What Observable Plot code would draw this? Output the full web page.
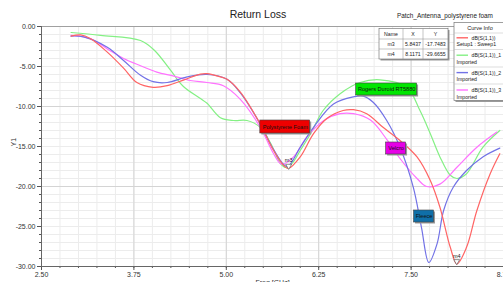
<!DOCTYPE html>
<html><head><meta charset="utf-8">
<script src="https://cdn.jsdelivr.net/npm/d3@7"></script>
<script src="https://cdn.jsdelivr.net/npm/@observablehq/plot@0.6"></script>
<style>
html,body{margin:0;padding:0;background:#fff;overflow:hidden}
#chart{width:503px;height:282px}
</style></head><body><div id="chart"></div>
<script>
// ---- data ----
const xTicks = [2.5, 3.75, 5.0, 6.25, 7.5, 8.75];
const yTicks = [0, -5, -10, -15, -20, -25, -30];

const freqRed = [2.9,3.03,3.16,3.39,3.61,3.79,4.01,4.2,4.42,4.65,4.74,4.92,5.01,5.19,5.46,5.64,5.78,5.84,6.0,6.18,6.36,6.58,6.72,6.9,7.12,7.35,7.58,7.76,7.89,8.03,8.12,8.25,8.39,8.57,8.7];
const dbRed   = [-1.2,-1.05,-1.5,-3.2,-5.2,-7.0,-7.6,-7.4,-6.7,-5.95,-5.9,-6.3,-6.6,-8.2,-12.2,-15.5,-17.4,-17.75,-16.3,-13.4,-11.5,-10.5,-10.4,-10.9,-12.6,-14.25,-16.3,-19.25,-22.6,-27.6,-29.67,-27.6,-23.0,-18.4,-15.9];

const freqGreen = [2.9,3.3,3.84,4.03,4.24,4.42,4.65,4.74,4.92,5.1,5.28,5.46,5.6,5.73,5.8,5.89,6.0,6.14,6.31,6.54,6.81,7.08,7.44,7.62,7.76,7.89,8.03,8.12,8.25,8.47,8.7];
const dbGreen   = [-0.75,-1.1,-1.75,-3.0,-5.4,-7.5,-9.0,-9.6,-11.4,-11.75,-11.75,-12.6,-14.6,-17.1,-17.6,-17.1,-15.5,-13.4,-10.5,-8.4,-7.0,-6.66,-7.6,-10.5,-13.4,-16.3,-18.6,-19.0,-18.4,-15.1,-13.0];

const freqBlue = [2.9,3.07,3.39,3.61,3.84,4.01,4.2,4.47,4.74,5.01,5.19,5.46,5.64,5.82,6.0,6.18,6.45,6.72,6.85,6.99,7.17,7.35,7.53,7.64,7.74,7.85,7.94,8.07,8.25,8.47,8.7];
const dbBlue   = [-1.2,-1.3,-2.6,-4.25,-6.1,-6.9,-7.0,-6.3,-6.0,-6.6,-8.3,-12.2,-15.4,-17.5,-15.1,-12.6,-9.7,-8.8,-8.7,-9.5,-11.75,-15.1,-20.1,-25.1,-29.5,-27.2,-23.0,-20.1,-18.0,-16.3,-15.2];

const freqMagenta = [2.9,3.16,3.39,3.61,3.84,4.06,4.29,4.51,4.74,4.96,5.19,5.46,5.64,5.75,5.91,6.09,6.32,6.54,6.72,6.95,7.17,7.35,7.58,7.71,7.89,8.12,8.39,8.66];
const dbMagenta   = [-1.1,-1.5,-2.8,-4.0,-4.9,-5.7,-6.2,-6.75,-7.0,-7.4,-9.1,-12.6,-15.9,-17.2,-16.3,-13.8,-11.75,-10.9,-10.9,-11.7,-14.1,-16.5,-19.0,-20.0,-19.7,-17.6,-15.1,-13.2];

const seriesNames = ["dB(S(1,1))","dB(S(1,1))_1","dB(S(1,1))_2","dB(S(1,1))_3"];
const seriesSub   = ["Setup1 : Sweep1","Imported","Imported","Imported"];
const seriesColors = ["#ff6464","#84f084","#7272e6","#ff72ff"];

const markerNames = ["m3","m4"];
const markerX = [5.8437, 8.1171];
const markerY = [-17.7483, -29.6655];

const labelTexts  = ["Polystyrene Foam","Rogers Duroid RT5880","Velcro","Fleece"];
const labelColors = ["#ee0000","#00e600","#e600e6","#0f6fa8"];
const labelX1 = [5.46, 6.757, 7.162, 7.54];
const labelX2 = [6.135, 7.581, 7.432, 7.81];
const labelY1 = [-11.75, -7.125, -14.5, -23.0];
const labelY2 = [-13.375, -8.625, -16.0, -24.5];

// ---- build ----
const mk = (f, d, i) => f.map((x, k) => ({x, y: d[k], s: i}));
const curves = [mk(freqRed, dbRed, 0), mk(freqGreen, dbGreen, 1), mk(freqBlue, dbBlue, 2), mk(freqMagenta, dbMagenta, 3)];
const labels = labelTexts.map((t, i) => ({t, c: labelColors[i], x1: labelX1[i], x2: labelX2[i], y1: labelY1[i], y2: labelY2[i]}));
const markers = markerNames.map((n, i) => ({n, x: markerX[i], y: markerY[i]}));

const font = "Liberation Sans, Arial, sans-serif";
const minorX = d3.range(2.5, 8.751, 0.25);
const minorY = d3.range(-30, 0.01, 1);

const plot = Plot.plot({
  width: 503, height: 282,
  marginLeft: 41, marginRight: 0, marginTop: 26, marginBottom: 16,
  style: {fontFamily: font, background: "#fff", overflow: "visible"},
  x: {domain: [2.5, 8.75]},
  y: {domain: [-30, 0]},
  marks: [
    Plot.ruleX(minorX, {stroke: "#ececec", strokeWidth: 1}),
    Plot.ruleY(minorY, {stroke: "#ececec", strokeWidth: 1}),
    Plot.ruleX(xTicks, {stroke: "#d4d4d4", strokeWidth: 1}),
    Plot.ruleY([-10, -20], {stroke: "#d4d4d4", strokeWidth: 1}),
    Plot.frame({stroke: "#a0a0a0"}),
    Plot.axisX({ticks: minorX, tickSize: 2, tickFormat: null, text: null, stroke: "#555"}),
    Plot.axisX({ticks: xTicks, tickSize: 4, tickPadding: 2, tickFormat: d => d.toFixed(2), fontSize: 7, fill: "#333", stroke: "#555", label: null}),
    Plot.axisY({ticks: minorY, tickSize: 2, text: null, stroke: "#555"}),
    Plot.axisY({ticks: yTicks, tickSize: 4, tickPadding: 2, tickFormat: d => d.toFixed(2), fontSize: 7, fill: "#333", stroke: "#555", label: null}),
    Plot.ruleX([2.5], {stroke: "#666"}),
    Plot.ruleY([-30], {stroke: "#666"}),
    ...[1, 3, 2, 0].map(i => Plot.line(curves[i], {x: "x", y: "y", stroke: seriesColors[i], strokeWidth: 1.2, curve: "catmull-rom"})),
    // annotation boxes
    Plot.rect(labels, {x1: "x1", x2: "x2", y1: "y1", y2: "y2", fill: "#9a9a9a", dx: 1.5, dy: 1.5}),
    Plot.rect(labels, {x1: "x1", x2: "x2", y1: "y1", y2: "y2", fill: "c", stroke: "#444", strokeWidth: 0.6}),
    Plot.text(labels, {x: d => (d.x1 + d.x2) / 2, y: d => (d.y1 + d.y2) / 2, text: "t", fontSize: 5.6, fill: "#111"}),
    // markers
    Plot.dot(markers, {x: "x", y: "y", symbol: "triangle", rotate: 180, r: 2.2, dy: -2.5, stroke: "#444", fill: "white", strokeWidth: 0.6}),
    Plot.text(markers, {x: "x", y: "y", text: "n", dy: -8, fontSize: 5.5, fill: "#222"}),
    // axis titles
    Plot.text(["Y1"], {frameAnchor: "left", dx: -28, rotate: -90, fontSize: 7, fill: "#333"}),
    Plot.text(["Freq [GHz]"], {frameAnchor: "bottom", dy: 18, fontSize: 7, fill: "#333"}),
  ]
});
document.getElementById("chart").appendChild(plot);

// ---- decorations: title, marker table, curve info ----
const svg = d3.select(plot);
const g = svg.append("g").attr("font-family", font).attr("text-anchor", "start");
g.append("text").attr("x", 258).attr("y", 18).attr("text-anchor", "middle").attr("font-size", 10.5).attr("font-weight", 500).attr("fill", "#222").text("Return Loss");
g.append("text").attr("x", 397).attr("y", 18).attr("font-size", 6.4).attr("fill", "#222").text("Patch_Antenna_polystyrene foam");

// marker table
const tx = [379, 403, 423, 448], ty = [28.5, 39, 49, 59];
g.append("rect").attr("x", tx[0] + 1.5).attr("y", ty[0] + 1.5).attr("width", tx[3] - tx[0]).attr("height", ty[3] - ty[0]).attr("fill", "#9a9a9a");
g.append("rect").attr("x", tx[0]).attr("y", ty[0]).attr("width", tx[3] - tx[0]).attr("height", ty[3] - ty[0]).attr("fill", "#fff").attr("stroke", "#666").attr("stroke-width", 0.6);
[1, 2].forEach(i => g.append("line").attr("x1", tx[i]).attr("x2", tx[i]).attr("y1", ty[0]).attr("y2", ty[3]).attr("stroke", "#888").attr("stroke-width", 0.5));
[1, 2].forEach(i => g.append("line").attr("x1", tx[0]).attr("x2", tx[3]).attr("y1", ty[i]).attr("y2", ty[i]).attr("stroke", "#888").attr("stroke-width", 0.5));
const rows = [["Name", "X", "Y"], ...markers.map(m => [m.n, m.x.toFixed(4), m.y.toFixed(4)])];
rows.forEach((r, j) => r.forEach((t, i) => g.append("text").attr("x", (tx[i] + tx[i + 1]) / 2).attr("y", (ty[j] + ty[j + 1]) / 2 + 2).attr("text-anchor", "middle").attr("font-size", 5.2).attr("fill", "#222").text(t)));

// curve info legend
g.append("rect").attr("x", 455.5).attr("y", 24).attr("width", 60).attr("height", 78).attr("fill", "#9a9a9a");
g.append("rect").attr("x", 454).attr("y", 22.5).attr("width", 60).attr("height", 78).attr("fill", "#fff").attr("stroke", "#777").attr("stroke-width", 0.7);
g.append("text").attr("x", 480).attr("y", 30).attr("text-anchor", "middle").attr("font-size", 5.5).attr("fill", "#222").text("Curve Info");
[33, 49.5, 67, 84].forEach(y => g.append("line").attr("x1", 454).attr("x2", 503).attr("y1", y).attr("y2", y).attr("stroke", "#bbb").attr("stroke-width", 0.5));
const ly = [37.8, 55.2, 72.6, 90];
seriesNames.forEach((n, i) => {
  g.append("line").attr("x1", 456.5).attr("x2", 468).attr("y1", ly[i]).attr("y2", ly[i]).attr("stroke", seriesColors[i]).attr("stroke-width", 1.4);
  g.append("text").attr("x", 471.5).attr("y", ly[i] + 2).attr("font-size", 5.2).attr("fill", "#222").text(n);
  g.append("text").attr("x", 456.5).attr("y", ly[i] + 8.6).attr("font-size", 5.2).attr("fill", "#222").text(seriesSub[i]);
});
</script></body></html>
